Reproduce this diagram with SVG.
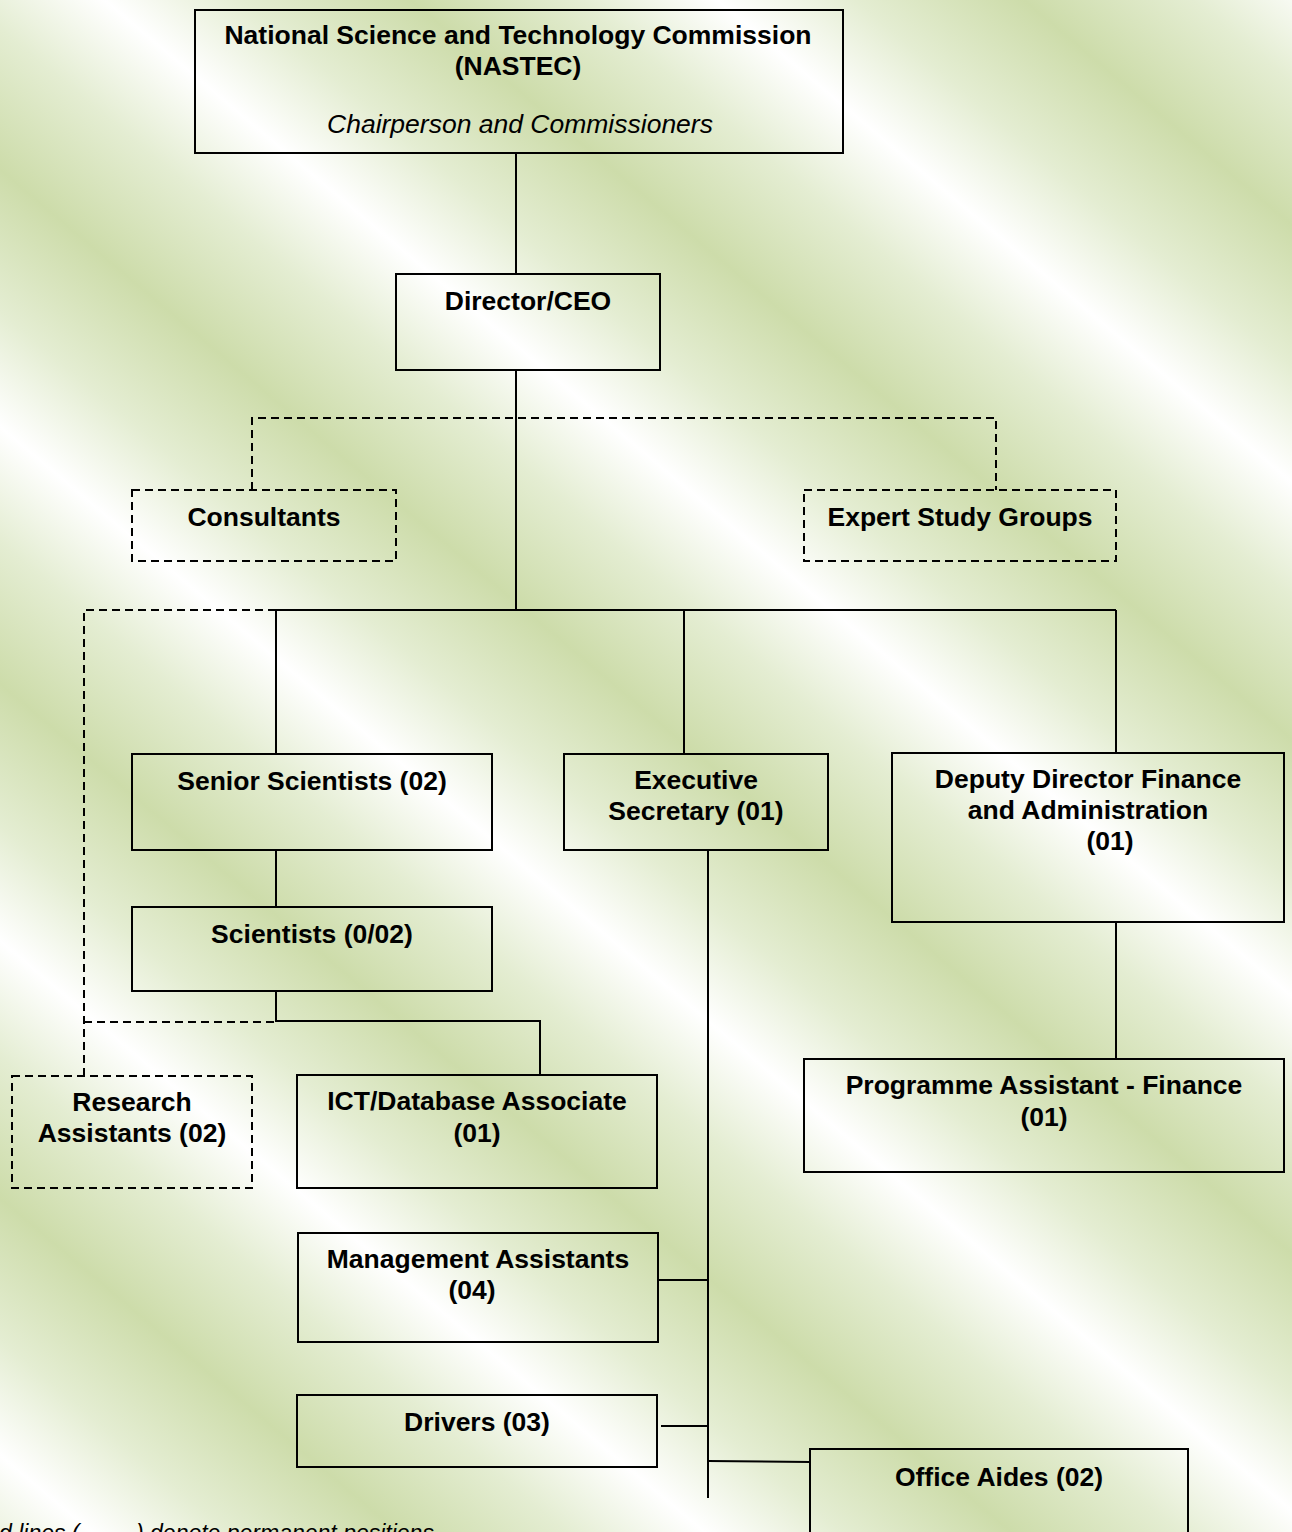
<svg xmlns="http://www.w3.org/2000/svg" width="1292" height="1532" viewBox="0 0 1292 1532">
  <defs>
    <linearGradient id="bg" gradientUnits="userSpaceOnUse" x1="296.4" y1="-353.1" x2="169.8" y2="-202.2" spreadMethod="reflect">
      <stop offset="0" stop-color="#ffffff"/>
      <stop offset="0.45" stop-color="#e4edd2"/>
      <stop offset="1" stop-color="#cddcaa"/>
    </linearGradient>
  </defs>
  <style>
    .box { fill: none; stroke: #000; stroke-width: 2; }
    .dbox { fill: none; stroke: #000; stroke-width: 2; stroke-dasharray: 8 5; }
    .ln { fill: none; stroke: #000; stroke-width: 2; }
    .dln { fill: none; stroke: #000; stroke-width: 2; stroke-dasharray: 8 5; }
    .t { font-family: "Liberation Sans", Arial, sans-serif; font-size: 26.5px; font-weight: bold; fill: #000; text-anchor: middle; }
    .it { font-family: "Liberation Sans", Arial, sans-serif; font-size: 26.5px; font-style: italic; fill: #000; text-anchor: middle; }
    .cap { font-family: "Liberation Sans", Arial, sans-serif; font-size: 23px; font-style: italic; fill: #000; }
  </style>
  <rect x="0" y="0" width="1292" height="1532" fill="url(#bg)"/>

  <g id="connectors">
    <line class="ln" x1="516" y1="153" x2="516" y2="274"/>
    <line class="ln" x1="516" y1="370" x2="516" y2="610"/>
    <polyline class="dln" points="252,490 252,418 996,418 996,490"/>
    <line class="ln" x1="276" y1="610" x2="1116" y2="610"/>
    <line class="ln" x1="276" y1="610" x2="276" y2="754"/>
    <line class="ln" x1="684" y1="610" x2="684" y2="754"/>
    <line class="ln" x1="1116" y1="610" x2="1116" y2="753"/>
    <polyline class="dln" points="276,610 84,610 84,1076"/>
    <line class="dln" x1="84" y1="1022" x2="276" y2="1022"/>
    <line class="ln" x1="276" y1="850" x2="276" y2="907"/>
    <polyline class="ln" points="276,991 276,1021 540,1021 540,1075"/>
    <line class="ln" x1="708" y1="850" x2="708" y2="1498"/>
    <line class="ln" x1="658" y1="1280" x2="708" y2="1280"/>
    <line class="ln" x1="661" y1="1426" x2="708" y2="1426"/>
    <line class="ln" x1="708" y1="1461" x2="810" y2="1462"/>
    <line class="ln" x1="1116" y1="922" x2="1116" y2="1059"/>
  </g>

  <g id="nastec">
    <rect class="box" x="195" y="10" width="648" height="143"/>
    <text class="t" x="518" y="44">National Science and Technology Commission</text>
    <text class="t" x="518" y="75">(NASTEC)</text>
    <text class="it" x="520" y="133">Chairperson and Commissioners</text>
  </g>
  <g id="director">
    <rect class="box" x="396" y="274" width="264" height="96"/>
    <text class="t" x="528" y="310">Director/CEO</text>
  </g>
  <g id="consultants">
    <rect class="dbox" x="132" y="490" width="264" height="71"/>
    <text class="t" x="264" y="526">Consultants</text>
  </g>
  <g id="expert-study-groups">
    <rect class="dbox" x="804" y="490" width="312" height="71"/>
    <text class="t" x="960" y="526">Expert Study Groups</text>
  </g>
  <g id="senior-scientists">
    <rect class="box" x="132" y="754" width="360" height="96"/>
    <text class="t" x="312" y="790">Senior Scientists (02)</text>
  </g>
  <g id="executive-secretary">
    <rect class="box" x="564" y="754" width="264" height="96"/>
    <text class="t" x="696" y="789">Executive</text>
    <text class="t" x="696" y="820">Secretary (01)</text>
  </g>
  <g id="deputy-director">
    <rect class="box" x="892" y="753" width="392" height="169"/>
    <text class="t" x="1088" y="788">Deputy Director Finance</text>
    <text class="t" x="1088" y="819">and Administration</text>
    <text class="t" x="1110" y="850">(01)</text>
  </g>
  <g id="scientists">
    <rect class="box" x="132" y="907" width="360" height="84"/>
    <text class="t" x="312" y="943">Scientists (0/02)</text>
  </g>
  <g id="research-assistants">
    <rect class="dbox" x="12" y="1076" width="240" height="112"/>
    <text class="t" x="132" y="1111">Research</text>
    <text class="t" x="132" y="1142">Assistants (02)</text>
  </g>
  <g id="ict-database-associate">
    <rect class="box" x="297" y="1075" width="360" height="113"/>
    <text class="t" x="477" y="1110">ICT/Database Associate</text>
    <text class="t" x="477" y="1142">(01)</text>
  </g>
  <g id="programme-assistant">
    <rect class="box" x="804" y="1059" width="480" height="113"/>
    <text class="t" x="1044" y="1094">Programme Assistant - Finance</text>
    <text class="t" x="1044" y="1126">(01)</text>
  </g>
  <g id="management-assistants">
    <rect class="box" x="298" y="1233" width="360" height="109"/>
    <text class="t" x="478" y="1268">Management Assistants</text>
    <text class="t" x="472" y="1299">(04)</text>
  </g>
  <g id="drivers">
    <rect class="box" x="297" y="1395" width="360" height="72"/>
    <text class="t" x="477" y="1431">Drivers (03)</text>
  </g>
  <g id="office-aides">
    <rect class="box" x="810" y="1449" width="378" height="100"/>
    <text class="t" x="999" y="1486">Office Aides (02)</text>
  </g>

  <g id="caption">
    <text class="cap" x="-1" y="1541">d lines (</text>
    <text class="cap" x="136" y="1541">) denote permanent positions</text>
  </g>
</svg>
